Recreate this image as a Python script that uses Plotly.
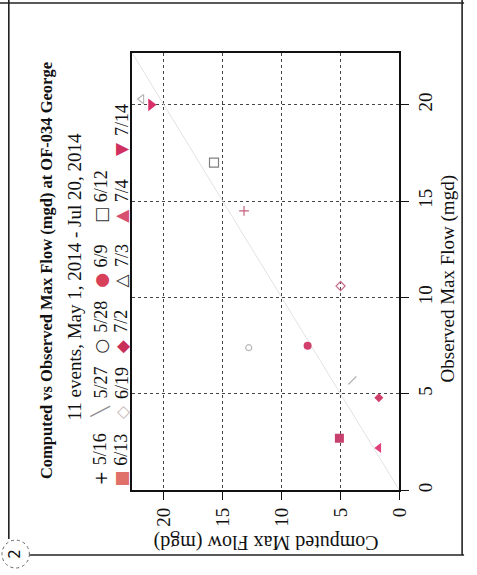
import plotly.graph_objects as go

# ---------------- data ----------------
events = ["5/16", "5/27", "5/28", "6/9", "6/12", "6/13", "6/19", "7/2", "7/3", "7/4", "7/14"]
computed_mgd = [13.2, 4.0, 12.8, 7.8, 15.75, 5.1, 5.0, 1.75, 21.9, 1.75, 21.1]
observed_mgd = [14.5, 5.7, 7.4, 7.5, 17.0, 2.7, 10.6, 4.8, 20.3, 2.2, 20.0]
axis_ticks = [0, 5, 10, 15, 20]
one_to_one = [0, 22.7]

title_text = "Computed vs Observed Max Flow (mgd) at OF-034 George"
subtitle_text = "11 events, May 1, 2014 - Jul 20, 2014"
xlab = "Observed Max Flow (mgd)"
ylab = "Computed Max Flow (mgd)"

# ---------------- styles ----------------
mk_symbol = ["cross-thin", "line-ne", "circle-open", "circle", "square-open", "square",
             "diamond-open", "diamond", "triangle-left-open", "triangle-left", "triangle-right"]
mk_color = ["#c86080", "#a8a8a8", "#b8b8b8", "#d0406a", "#808080", "#c8406e",
            "#c87090", "#d0406a", "#b8b8b8", "#e0407a", "#d8306a"]
mk_size = [7, 8, 6, 8, 9, 9, 7, 7, 8, 9, 11]

lg_glyph = ["+", "\u2572", "\u25CB", "\u25CF", "\u25A1", "\u25A0", "\u25C7", "\u25C6", "\u25B3", "\u25B2", "\u25BC"]
lg_color = ["#111111", "#909090", "#333333", "#d8405a", "#333333", "#e0706a",
            "#c8b8b8", "#c8305a", "#333333", "#d85070", "#d03060"]

W, H = 477, 575
def px(x):
    return x / W
def py(y):
    return 1 - y / H

SERIF = "Liberation Serif"

fig = go.Figure()

fig.add_trace(go.Scatter(x=one_to_one, y=one_to_one, mode="lines",
                         line=dict(color="#e2e2e2", width=1), hoverinfo="skip",
                         showlegend=False))

for i, ev in enumerate(events):
    sym = mk_symbol[i]
    open_like = sym.endswith("open") or sym.startswith("line") or sym.endswith("thin")
    marker = dict(symbol=sym, size=mk_size[i], color=mk_color[i],
                  line=dict(color=mk_color[i], width=1.2 if open_like else 0))
    fig.add_trace(go.Scatter(x=[computed_mgd[i]], y=[observed_mgd[i]], mode="markers",
                             marker=marker, name=ev, showlegend=False))

axis_common = dict(
    tickvals=axis_ticks, tickangle=-90, ticks="outside", ticklen=8, tickwidth=1.3,
    tickcolor="#111", showline=True, mirror=True, linecolor="#111", linewidth=1.6,
    showgrid=True, gridcolor="#444", griddash="dot", gridwidth=1, zeroline=False,
    tickfont=dict(family=SERIF, size=19, color="#111"),
)

fig.update_layout(
    width=W, height=H, autosize=False,
    margin=dict(l=0, r=0, t=0, b=0),
    paper_bgcolor="white", plot_bgcolor="white",
    showlegend=False,
    xaxis=dict(domain=[px(135), px(408)], range=[22.7, 0], side="bottom", **axis_common),
    yaxis=dict(domain=[py(492), py(53)], range=[0, 22.7], side="right", **axis_common),
)

ann = []
ann.append(dict(text="<b>" + title_text + "</b>", x=px(47), y=py(272), xref="paper", yref="paper",
                textangle=-90, showarrow=False, xanchor="center", yanchor="middle",
                font=dict(family=SERIF, size=16.5, color="#111")))
ann.append(dict(text=subtitle_text, x=px(76), y=py(278), xref="paper", yref="paper",
                textangle=-90, showarrow=False, xanchor="center", yanchor="middle",
                font=dict(family=SERIF, size=19, color="#111")))
ann.append(dict(text=xlab, x=px(458), y=py(280), xref="paper", yref="paper",
                textangle=-90, showarrow=False, xanchor="center", yanchor="middle",
                font=dict(family=SERIF, size=19, color="#111")))
ann.append(dict(text=ylab, x=px(272), y=py(545), xref="paper", yref="paper",
                textangle=180, showarrow=False, xanchor="center", yanchor="middle",
                font=dict(family=SERIF, size=20, color="#111")))

row_x = [103, 124]
entry_y = [480, 413, 347, 281, 216, 149]
for i, ev in enumerate(events):
    r = 0 if i < 5 else 1
    k = i if i < 5 else i - 5
    sx = row_x[r]
    sy = entry_y[k]
    ann.append(dict(text=lg_glyph[i], x=px(sx), y=py(sy), xref="paper", yref="paper",
                    textangle=-90, showarrow=False, xanchor="center", yanchor="middle",
                    font=dict(family="DejaVu Sans", size=17, color=lg_color[i])))
    ann.append(dict(text=ev, x=px(sx), y=py(sy - 11), xref="paper", yref="paper",
                    textangle=-90, showarrow=False, xanchor="center", yanchor="bottom",
                    font=dict(family=SERIF, size=18, color="#111")))

ann.append(dict(text="2", x=px(15), y=py(556), xref="paper", yref="paper",
                textangle=-90, showarrow=False, xanchor="center", yanchor="middle",
                font=dict(family="DejaVu Sans", size=15, color="#111")))
fig.update_layout(annotations=ann)

line_style = dict(color="#222", width=1.6)
shapes = [
    dict(type="line", xref="paper", yref="paper", x0=px(0), x1=px(474), y0=py(3), y1=py(3), line=line_style),
    dict(type="line", xref="paper", yref="paper", x0=px(472), x1=px(472), y0=py(0), y1=py(557), line=line_style),
    dict(type="line", xref="paper", yref="paper", x0=px(30), x1=px(474), y0=py(557), y1=py(557), line=line_style),
    dict(type="line", xref="paper", yref="paper", x0=px(9), x1=px(9), y0=py(0), y1=py(541), line=line_style),
    dict(type="circle", xref="paper", yref="paper", x0=px(2), x1=px(30), y0=py(542), y1=py(570),
         line=dict(color="#666", width=1, dash="dot")),
]
fig.update_layout(shapes=shapes)

fig.write_html("out.html")
